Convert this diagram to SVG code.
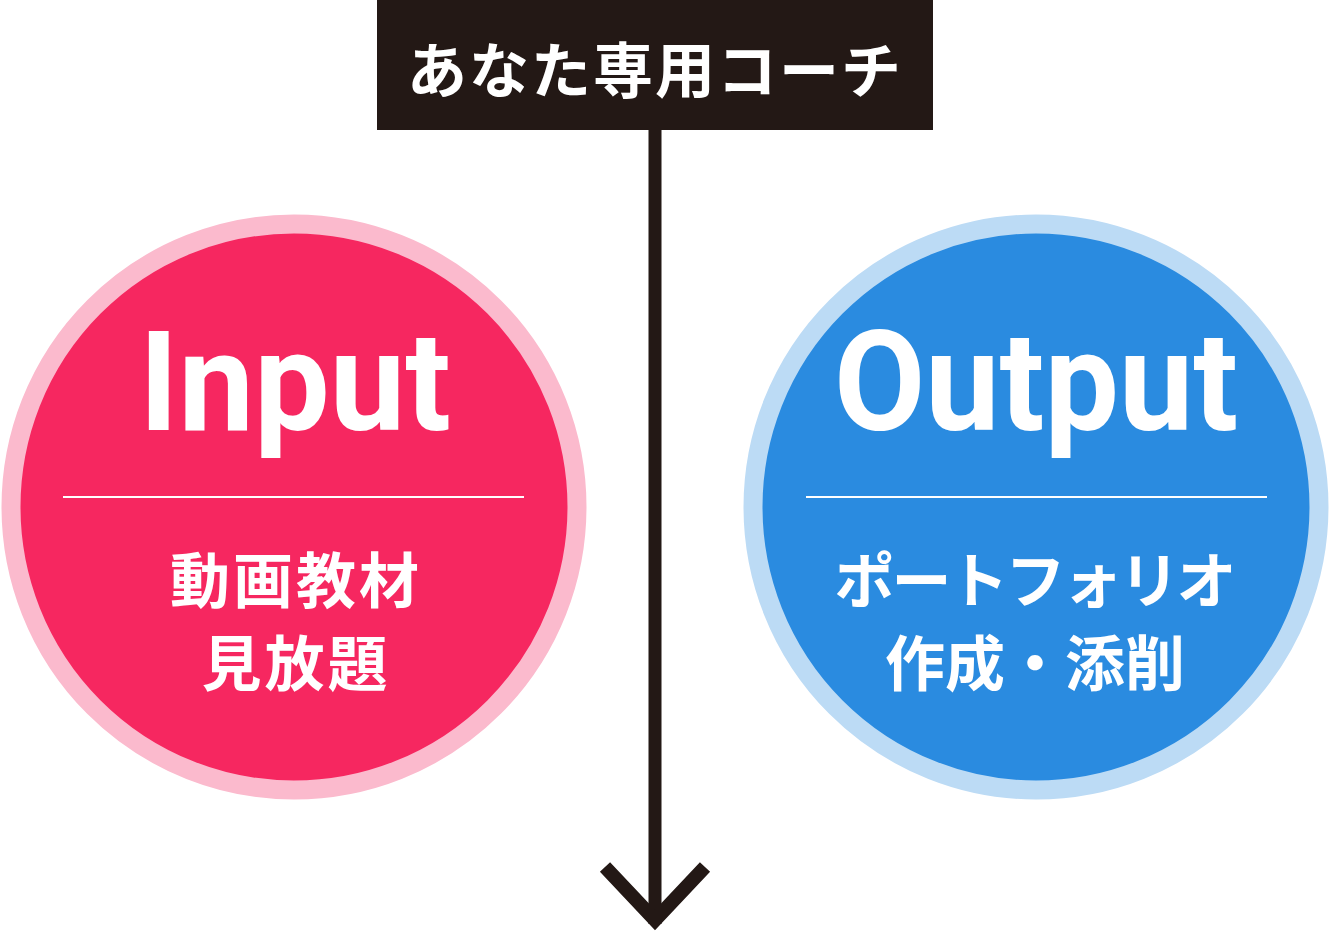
<svg xmlns="http://www.w3.org/2000/svg" width="1330" height="934" viewBox="0 0 1330 934">
<style>
.ring-in{fill:#F62760;stroke:#FBBACD;stroke-width:19}
.ring-out{fill:#2A8BE0;stroke:#BCDBF5;stroke-width:19}
.div{stroke:#FFFFFF;stroke-width:2}
.en{font-family:Roboto,"Liberation Sans",sans-serif;font-weight:700;font-size:139px;fill:#FFFFFF}
.jp{font-family:"Noto Sans CJK JP","Noto Sans",sans-serif;font-weight:700;font-size:60px;fill:#FFFFFF;text-anchor:middle}
.title{font-family:"Noto Sans CJK JP","Noto Sans",sans-serif;font-weight:700;font-size:60px;fill:#FFFFFF;text-anchor:middle}
.conn{stroke:#231815;fill:none}
</style>
<rect width="1330" height="934" fill="#FFFFFF"/>
<g id="connectors">
<line class="conn" x1="655" y1="130" x2="655" y2="924" stroke-width="13"/>
<polyline class="conn" points="605,867 655,920 705,867" stroke-width="14" stroke-linejoin="miter"/>
</g>
<g id="coach">
<rect x="377" y="0" width="556" height="130" fill="#231815"/>
<text class="title" x="655" y="93" letter-spacing="2">あなた専用コーチ</text>
</g>
<g id="input">
<circle class="ring-in" cx="294" cy="507" r="283"/>
<text class="en" x="139" y="430" textLength="312" lengthAdjust="spacingAndGlyphs">Input</text>
<line class="div" x1="63" y1="497" x2="524" y2="497"/>
<text class="jp" x="296" y="603" letter-spacing="3">動画教材</text>
<text class="jp" x="296" y="686" letter-spacing="3">見放題</text>
</g>
<g id="output">
<circle class="ring-out" cx="1036" cy="507" r="283"/>
<text class="en" x="834" y="430" textLength="404" lengthAdjust="spacingAndGlyphs">Output</text>
<line class="div" x1="806" y1="497" x2="1267" y2="497"/>
<text class="jp" x="1034" y="603" letter-spacing="-3">ポートフォリオ</text>
<text class="jp" x="1035" y="686">作成・添削</text>
</g>
</svg>
